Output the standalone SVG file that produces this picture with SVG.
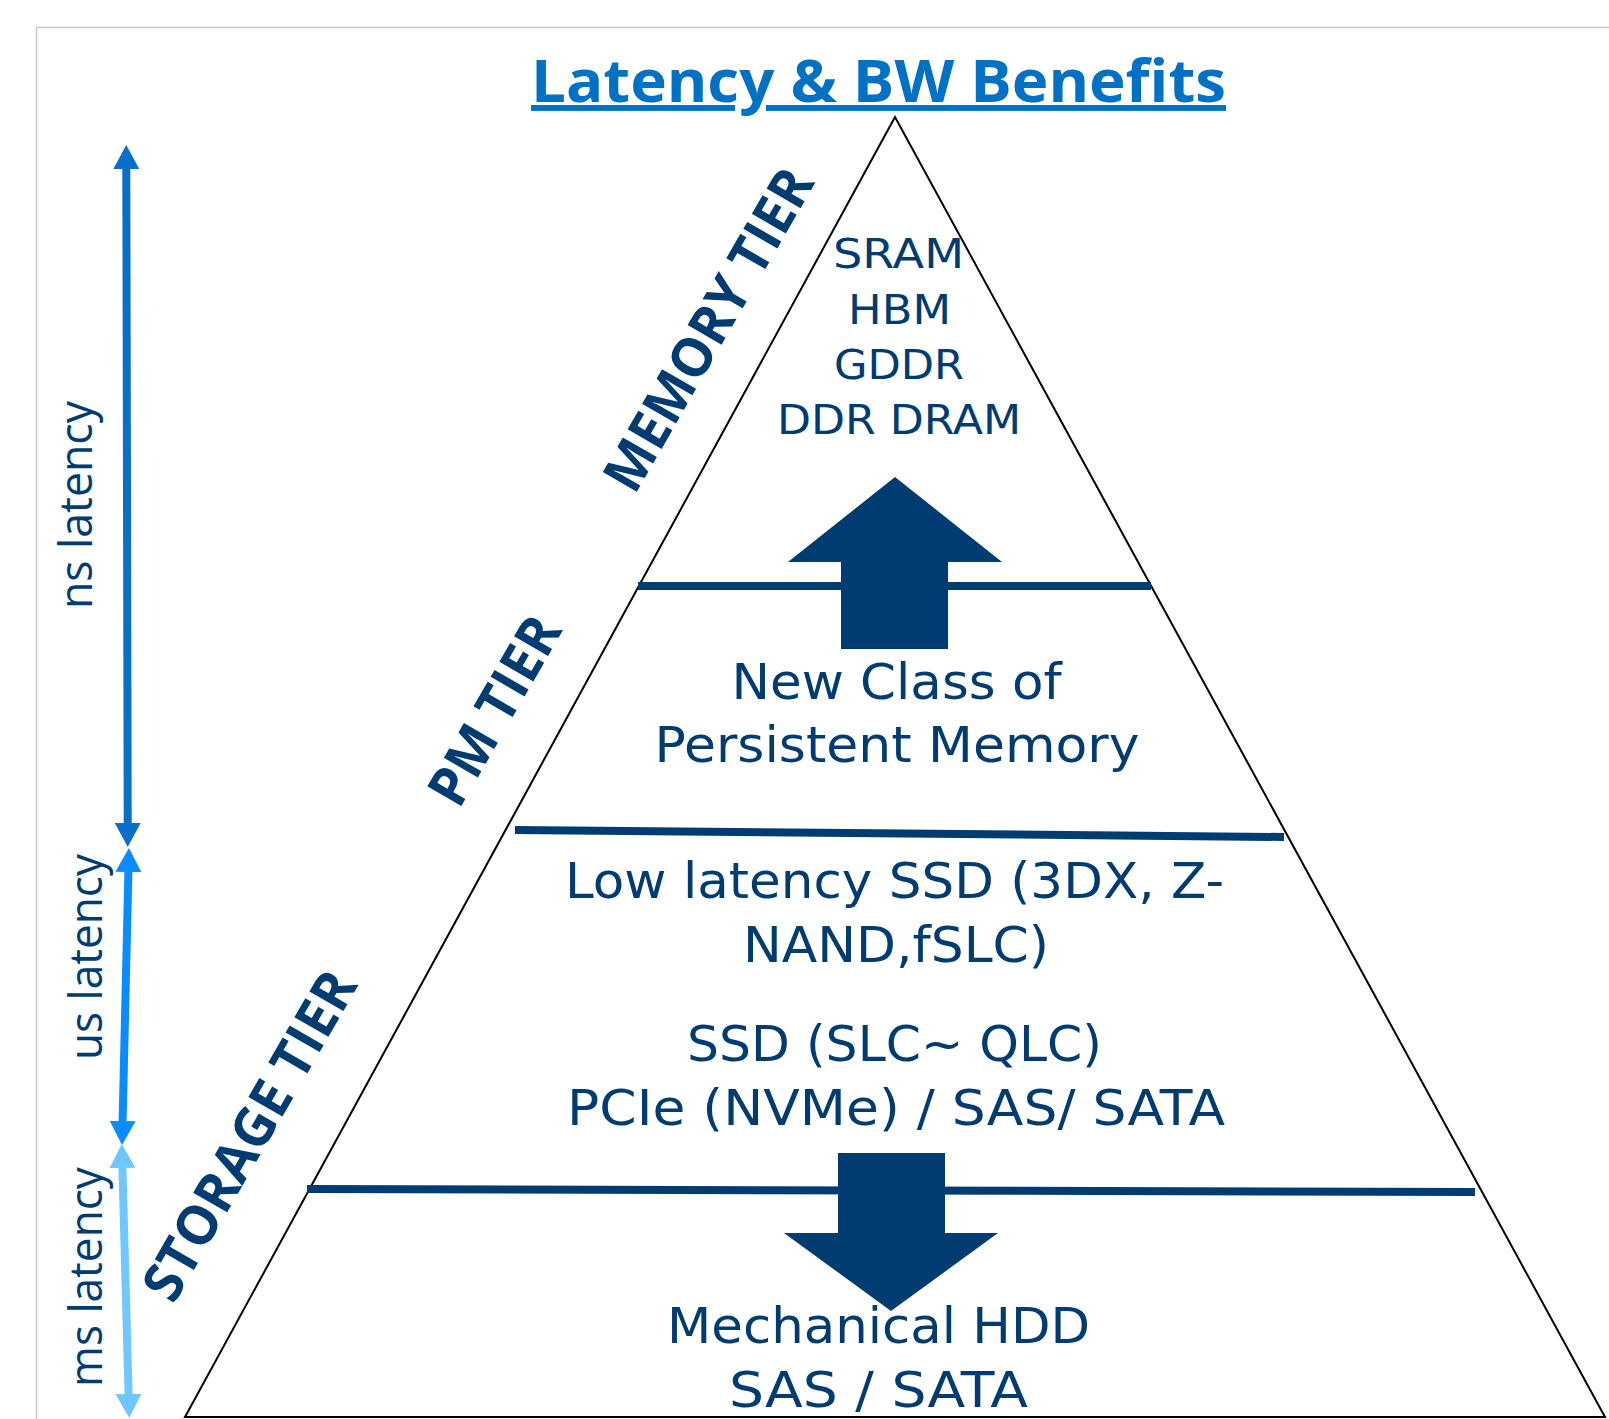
<svg xmlns="http://www.w3.org/2000/svg" width="1609" height="1419" viewBox="0 0 1609 1419">
  <style>
    text { font-family: "Open Sans", "Noto Sans", "Liberation Sans", sans-serif; fill: #003c71; text-anchor: middle; }
    .title { font-weight: 700; font-size: 59px; fill: #0071c5; text-decoration: underline; }
    .tier { font-weight: 700; font-size: 55px; }
    .mem { font-family: "DejaVu Sans", "Open Sans", sans-serif; font-size: 40px; }
    .big { font-family: "DejaVu Sans", "Open Sans", sans-serif; font-size: 49px; }
    .lat { font-size: 46px; }
    .divider { stroke: #003c71; stroke-width: 8; fill: none; }
    .bigarrow { fill: #003c71; }
  </style>
  <defs>
    <marker id="hNs" markerUnits="userSpaceOnUse" markerWidth="24" markerHeight="26" viewBox="0 0 24 26" refX="0" refY="13" orient="auto-start-reverse">
      <path d="M0,0 L24,13 L0,26 Z" fill="#0a6fc8"/>
    </marker>
    <marker id="hUs" markerUnits="userSpaceOnUse" markerWidth="24" markerHeight="26" viewBox="0 0 24 26" refX="0" refY="13" orient="auto-start-reverse">
      <path d="M0,0 L24,13 L0,26 Z" fill="#0a8cff"/>
    </marker>
    <marker id="hMs" markerUnits="userSpaceOnUse" markerWidth="24" markerHeight="26" viewBox="0 0 24 26" refX="0" refY="13" orient="auto-start-reverse">
      <path d="M0,0 L24,13 L0,26 Z" fill="#6ec8ff"/>
    </marker>
  </defs>

  <rect x="0" y="0" width="1609" height="1419" fill="#ffffff"/>
  <rect x="36.5" y="27.5" width="1600" height="1420" fill="none" stroke="#c8c8c8" stroke-width="1.5"/>

  <g id="title">
    <text class="title" x="878.5" y="102" textLength="695" lengthAdjust="spacingAndGlyphs">Latency &amp; BW Benefits</text>
  </g>

  <g id="pyramid">
    <polygon points="895,117 185,1417 1605,1417" fill="none" stroke="#000000" stroke-width="2"/>
    <line class="divider" x1="638" y1="586" x2="1151" y2="586"/>
    <line class="divider" x1="515" y1="830" x2="1284" y2="837"/>
    <line class="divider" x1="307" y1="1189" x2="1475" y2="1192"/>
  </g>

  <g id="memory-tier">
    <text class="tier" transform="translate(725,339) rotate(-60)" x="0" y="0" textLength="362" lengthAdjust="spacingAndGlyphs">MEMORY TIER</text>
    <text class="mem" x="898.5" y="268" textLength="131" lengthAdjust="spacingAndGlyphs">SRAM</text>
    <text class="mem" x="899.5" y="324" textLength="103" lengthAdjust="spacingAndGlyphs">HBM</text>
    <text class="mem" x="899" y="379" textLength="130" lengthAdjust="spacingAndGlyphs">GDDR</text>
    <text class="mem" x="899" y="434" textLength="244" lengthAdjust="spacingAndGlyphs">DDR DRAM</text>
  </g>

  <g id="pm-tier">
    <text class="tier" transform="translate(511,720) rotate(-60)" x="0" y="0" textLength="208" lengthAdjust="spacingAndGlyphs">PM TIER</text>
    <text class="big" x="896.5" y="699" textLength="330" lengthAdjust="spacingAndGlyphs">New Class of</text>
    <text class="big" x="897" y="762" textLength="485" lengthAdjust="spacingAndGlyphs">Persistent Memory</text>
  </g>

  <g id="storage-tier">
    <text class="tier" transform="translate(266,1145) rotate(-60)" x="0" y="0" textLength="370" lengthAdjust="spacingAndGlyphs">STORAGE TIER</text>
    <text class="big" x="894.5" y="898" textLength="659" lengthAdjust="spacingAndGlyphs">Low latency SSD (3DX, Z-</text>
    <text class="big" x="896" y="962" textLength="306" lengthAdjust="spacingAndGlyphs">NAND,fSLC)</text>
    <text class="big" x="894.5" y="1061" textLength="415" lengthAdjust="spacingAndGlyphs">SSD (SLC~ QLC)</text>
    <text class="big" x="896" y="1125" textLength="658" lengthAdjust="spacingAndGlyphs">PCIe (NVMe) / SAS/ SATA</text>
    <text class="big" x="878.5" y="1343" textLength="423" lengthAdjust="spacingAndGlyphs">Mechanical HDD</text>
    <text class="big" x="878.5" y="1407" textLength="299" lengthAdjust="spacingAndGlyphs">SAS / SATA</text>
  </g>

  <g id="up-arrow">
    <polygon class="bigarrow" points="895,477 1002,562 948,562 948,649 841,649 841,562 788,562"/>
  </g>
  <g id="down-arrow">
    <polygon class="bigarrow" points="838,1153 945,1153 945,1233 998,1233 891,1311 784,1233 838,1233"/>
  </g>

  <g id="latency-labels">
    <text class="lat" transform="translate(92,505) rotate(-90)" x="0" y="0" textLength="208" lengthAdjust="spacingAndGlyphs">ns latency</text>
    <text class="lat" transform="translate(102,957) rotate(-90)" x="0" y="0" textLength="206" lengthAdjust="spacingAndGlyphs">us latency</text>
    <text class="lat" transform="translate(102,1277) rotate(-90)" x="0" y="0" textLength="220" lengthAdjust="spacingAndGlyphs">ms latency</text>
  </g>

  <g id="connectors">
    <path d="M126.3,169 L127.7,823" stroke="#0a6fc8" stroke-width="8" fill="none" marker-start="url(#hNs)" marker-end="url(#hNs)"/>
    <path d="M128.4,872 L122.6,1121" stroke="#0a8cff" stroke-width="8" fill="none" marker-start="url(#hUs)" marker-end="url(#hUs)"/>
    <path d="M122.4,1168 L128.6,1394" stroke="#6ec8ff" stroke-width="8" fill="none" marker-start="url(#hMs)" marker-end="url(#hMs)"/>
  </g>
</svg>
